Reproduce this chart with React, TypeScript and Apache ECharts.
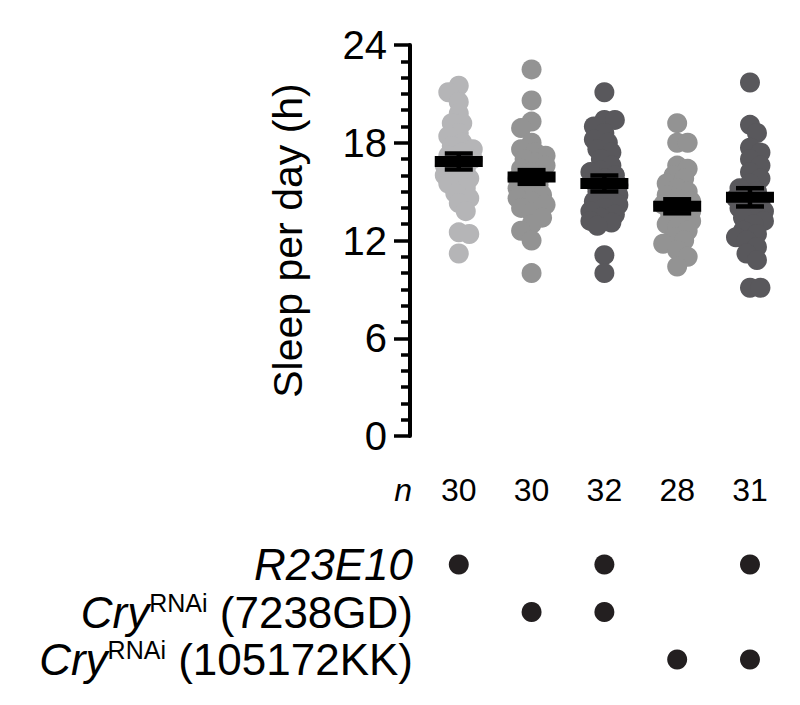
import React, { useEffect, useRef } from 'react';
import * as echarts from 'echarts';

// ---------- data ----------
const groups = [1, 2, 3, 4, 5];
const groupColors = ['#b5b5b7', '#939393', '#59585c', '#939393', '#59585c'];

const sleepG1 = [21.5, 21.1, 20.5, 19.8, 19.2, 19.2, 18.6, 18.4, 18.0, 17.8, 17.6, 17.4, 17.2, 17.0, 16.9,
  16.6, 16.4, 16.2, 16.0, 15.8, 15.7, 15.5, 15.2, 14.9, 14.6, 14.3, 13.8, 12.5, 12.4, 11.2];
const sleepG2 = [22.5, 20.6, 19.3, 18.9, 18.0, 17.6, 17.4, 17.2, 17.0, 16.8, 16.6, 16.4, 16.2, 16.0, 15.8,
  15.6, 15.4, 15.2, 15.0, 14.8, 14.6, 14.4, 14.2, 14.0, 13.7, 13.4, 13.0, 12.6, 12.0, 10.0];
const sleepG3 = [21.1, 19.4, 19.4, 19.0, 18.6, 18.2, 18.0, 17.6, 17.4, 17.0, 16.6, 16.3, 16.2, 16.0, 15.8,
  15.6, 15.4, 15.2, 15.0, 14.8, 14.6, 14.4, 14.2, 14.0, 13.8, 13.6, 13.4, 13.2, 13.1, 12.9, 11.1, 10.0];
const sleepG4 = [19.2, 18.0, 18.0, 16.6, 16.4, 16.0, 15.8, 15.5, 15.2, 15.0, 14.8, 14.6, 14.4, 14.2, 14.0,
  13.8, 13.6, 13.4, 13.2, 13.0, 12.8, 12.6, 12.2, 12.0, 11.8, 11.4, 11.0, 10.4];
const sleepG5 = [21.7, 19.1, 18.6, 17.7, 17.4, 17.0, 16.6, 16.2, 15.8, 15.5, 15.2, 15.0, 14.8, 14.6, 14.4,
  14.2, 14.0, 13.8, 13.6, 13.4, 13.2, 13.0, 12.6, 12.4, 12.2, 12.0, 11.6, 11.2, 10.8, 9.1, 9.1];
const sleepGroups = [sleepG1, sleepG2, sleepG3, sleepG4, sleepG5];

const means = [16.85, 15.9, 15.5, 14.1, 14.65];
const sems = [0.49, 0.42, 0.49, 0.43, 0.56];
const nCounts = [30, 30, 32, 28, 31];

const yMin = 0;
const yMax = 24;
const yInterval = 6;

const rowLabels = ['R23E10', 'Cry7238GD', 'Cry105172KK'];
const r23e10 = [1, 0, 1, 0, 1];
const cry7238 = [0, 1, 1, 0, 0];
const cry105172 = [0, 0, 0, 1, 1];
const memberships = [r23e10, cry7238, cry105172];

// ---------- layout ----------
const FONT = '"Liberation Sans", Arial, Helvetica, sans-serif';
const GRID_LEFT = 410;
const X_MIN = 0.33;
const X_MAX = 5.5;
const PX_PER_X = 72.8;
const GRID_W = (X_MAX - X_MIN) * PX_PER_X;
const GRID_RIGHT = 800 - GRID_LEFT - GRID_W;
const GRID_TOP = 45;
const GRID_H = 391;
const PX_PER_Y = GRID_H / (yMax - yMin);
const DOT = 20;

function swarmOffsets(vals: number[], minDist: number, step: number, maxOff: number): number[] {
  const order = vals.map((_, i) => i).sort((a, b) => vals[b] - vals[a]);
  const placed: { x: number; y: number }[] = [];
  const offs = new Array(vals.length).fill(0);
  const cands: number[] = [0];
  for (let k = 1; k * step <= maxOff + 1e-9; k++) cands.push(k * step, -k * step);
  order.forEach((i, idx) => {
    const y = vals[i] * PX_PER_Y;
    let best = 0;
    let bestD = -1;
    const cs = idx % 2 === 0 ? cands : cands.map((c) => -c);
    for (const c of cs) {
      let d = Infinity;
      for (const p of placed) d = Math.min(d, Math.hypot(p.x - c, p.y - y));
      if (d >= minDist) {
        best = c;
        bestD = d;
        break;
      }
      if (d > bestD) {
        bestD = d;
        best = c;
      }
    }
    placed.push({ x: best, y });
    offs[i] = best;
  });
  return offs;
}

export default function App() {
  const ref = useRef<HTMLDivElement>(null);

  useEffect(() => {
    if (!ref.current) return;
    const chart = echarts.init(ref.current, undefined, { renderer: 'svg' });

    const scatterSeries = sleepGroups.map((vals, gi) => {
      const offs = swarmOffsets(vals, 10, 3.5, 14);
      return {
        type: 'scatter',
        xAxisIndex: 0,
        yAxisIndex: 0,
        symbol: 'circle',
        symbolSize: DOT,
        z: 2,
        itemStyle: { color: groupColors[gi], opacity: 1 },
        data: vals.map((v, j) => [groups[gi] + offs[j] / PX_PER_X, v]),
      };
    });

    const meanSeries = {
      type: 'custom',
      xAxisIndex: 0,
      yAxisIndex: 0,
      z: 5,
      data: means.map((m, i) => [groups[i], m, sems[i]]),
      renderItem: (_p: any, api: any) => {
        const x = api.value(0);
        const m = api.value(1);
        const s = api.value(2);
        const c = api.coord([x, m]);
        const hi = api.coord([x, m + s]);
        const lo = api.coord([x, m - s]);
        const st = { stroke: '#000', lineWidth: 4.5 };
        return {
          type: 'group',
          children: [
            { type: 'line', shape: { x1: c[0], y1: hi[1], x2: c[0], y2: lo[1] }, style: st },
            { type: 'line', shape: { x1: c[0] - 14, y1: hi[1], x2: c[0] + 14, y2: hi[1] }, style: st },
            { type: 'line', shape: { x1: c[0] - 14, y1: lo[1], x2: c[0] + 14, y2: lo[1] }, style: st },
            { type: 'rect', shape: { x: c[0] - 24, y: c[1] - 5.5, width: 48, height: 11 }, style: { fill: '#000' } },
          ],
        };
      },
    };

    const nSeries = {
      type: 'scatter',
      xAxisIndex: 1,
      yAxisIndex: 1,
      symbolSize: 1,
      itemStyle: { color: 'rgba(0,0,0,0)', opacity: 1 },
      label: {
        show: true,
        position: 'inside',
        formatter: (p: any) => String(p.value[2]),
        fontSize: 32,
        fontFamily: FONT,
        color: '#000',
        opacity: 1,
      },
      data: groups.map((g, i) => [g, 'n', nCounts[i]]),
    };

    const tableData: any[] = [];
    memberships.forEach((arr, ri) => {
      arr.forEach((on, gi) => {
        if (on) tableData.push([groups[gi], rowLabels[ri]]);
      });
    });
    const tableSeries = {
      type: 'scatter',
      xAxisIndex: 2,
      yAxisIndex: 2,
      symbol: 'circle',
      symbolSize: 20,
      itemStyle: { color: '#231f20', opacity: 1 },
      data: tableData,
    };

    const hiddenX = (gridIndex: number) => ({
      type: 'value',
      gridIndex,
      min: X_MIN,
      max: X_MAX,
      show: false,
    });

    const rich = {
      it: { fontStyle: 'italic', fontSize: 44, fontFamily: FONT, color: '#000' },
      sup: { fontSize: 25, fontFamily: FONT, color: '#000', verticalAlign: 'top' },
      nm: { fontSize: 44, fontFamily: FONT, color: '#000' },
    };

    chart.setOption({
      animation: false,
      backgroundColor: '#fff',
      textStyle: { fontFamily: FONT },
      grid: [
        { left: GRID_LEFT, right: GRID_RIGHT, top: GRID_TOP, height: GRID_H },
        { left: GRID_LEFT, right: GRID_RIGHT, top: 470, height: 40 },
        { left: GRID_LEFT, right: GRID_RIGHT, top: 540.75, height: 142.5 },
      ],
      xAxis: [hiddenX(0), hiddenX(1), hiddenX(2)],
      yAxis: [
        {
          type: 'value',
          gridIndex: 0,
          min: yMin,
          max: yMax,
          interval: yInterval,
          name: 'Sleep per day (h)',
          nameLocation: 'middle',
          nameGap: 102,
          nameTextStyle: { fontSize: 41, color: '#000', fontFamily: FONT },
          axisLine: { show: true, lineStyle: { color: '#000', width: 4 } },
          axisTick: { show: true, length: 16, lineStyle: { color: '#000', width: 3.5 } },
          minorTick: { show: true, splitNumber: 6, length: 9, lineStyle: { color: '#000', width: 3.5 } },
          splitLine: { show: false },
          minorSplitLine: { show: false },
          axisLabel: { fontSize: 40, color: '#000', margin: 23, fontFamily: FONT },
        },
        {
          type: 'category',
          gridIndex: 1,
          data: ['n'],
          axisLine: { show: false },
          axisTick: { show: false },
          splitLine: { show: false },
          axisLabel: { fontSize: 32, fontStyle: 'italic', color: '#000', margin: -2, fontFamily: FONT },
        },
        {
          type: 'category',
          gridIndex: 2,
          data: rowLabels,
          inverse: true,
          axisLine: { show: false },
          axisTick: { show: false },
          splitLine: { show: false },
          axisLabel: {
            margin: -3,
            rich,
            formatter: (v: string) => {
              if (v === 'R23E10') return '{it|R23E10}';
              const code = v.replace('Cry', '');
              return '{it|Cry}{sup|RNAi}{nm| (' + code + ')}';
            },
          },
        },
      ],
      series: [...scatterSeries, meanSeries, nSeries, tableSeries],
    } as any);

    return () => chart.dispose();
  }, []);

  return (
    <div
      ref={ref}
      style={{ position: 'fixed', left: 0, top: 0, width: 800, height: 705, background: '#fff' }}
    />
  );
}
